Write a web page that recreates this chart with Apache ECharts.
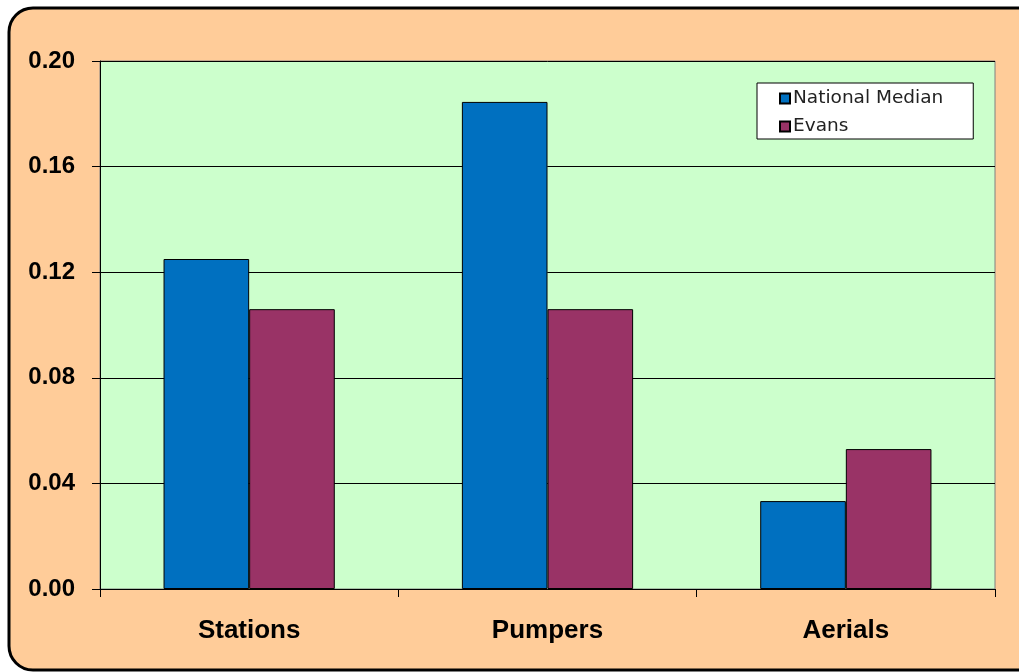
<!DOCTYPE html>
<html>
<head>
<meta charset="utf-8">
<script src="https://cdn.jsdelivr.net/npm/echarts@6/dist/echarts.min.js"></script>
<style>
  html, body { margin: 0; padding: 0; background: #ffffff; }
  #chart { width: 1019px; height: 672px; }
</style>
</head>
<body>
<div id="chart"></div>
<script>
  // categories and values
  const categories = ['Stations', 'Pumpers', 'Aerials'];
  const nationalMedian = [0.125, 0.1845, 0.0333];
  const evans = [0.106, 0.106, 0.053];
  const yTicks = { min: 0, max: 0.20, interval: 0.04 };

  const myChart = echarts.init(document.getElementById('chart'));
  const option = {
    animation: false,
    graphic: [
      {
        type: 'rect',
        z: -10,
        shape: { x: 9, y: 8, width: 1060, height: 662, r: 24 },
        style: { fill: '#FFCC99', stroke: '#000000', lineWidth: 3 }
      }
    ],
    grid: {
      left: 100,
      top: 61,
      right: 24,
      bottom: 83,
      show: true,
      backgroundColor: '#CCFFCC',
      borderColor: '#808080',
      borderWidth: 1
    },
    legend: {
      left: 757,
      top: 83,
      orient: 'vertical',
      backgroundColor: '#ffffff',
      borderColor: '#000000',
      borderWidth: 1,
      borderRadius: 0,
      padding: [6, 30, 3, 22],
      itemWidth: 10,
      itemHeight: 10,
      itemGap: 9,
      icon: 'rect',
      textStyle: {
        fontFamily: 'DejaVu Sans, sans-serif',
        fontSize: 18.5,
        lineHeight: 18,
        color: '#222222',
        padding: [0, 0, 0, -2]
      },
      data: ['National Median', 'Evans']
    },
    xAxis: {
      type: 'category',
      data: categories,
      axisLine: { lineStyle: { color: '#000000', width: 1 } },
      axisTick: { show: true, length: 8, lineStyle: { color: '#000000' } },
      axisLabel: {
        margin: 29,
        fontFamily: 'Liberation Sans, Arial, sans-serif',
        fontSize: 26,
        fontWeight: 'bold',
        color: '#000000'
      }
    },
    yAxis: {
      type: 'value',
      min: yTicks.min,
      max: yTicks.max,
      interval: yTicks.interval,
      axisLine: { show: true, lineStyle: { color: '#000000', width: 1 } },
      axisTick: { show: true, length: 8, lineStyle: { color: '#000000' } },
      splitLine: { show: true, lineStyle: { color: '#000000', width: 1 } },
      axisLabel: {
        margin: 25,
        fontFamily: 'Liberation Sans, Arial, sans-serif',
        fontSize: 24,
        fontWeight: 'bold',
        color: '#000000',
        formatter: function (v) { return v.toFixed(2); }
      }
    },
    series: [
      {
        name: 'National Median',
        type: 'bar',
        data: nationalMedian,
        barGap: '0%',
        barCategoryGap: '42.6%',
        itemStyle: { color: '#0070C0', borderColor: '#000000', borderWidth: 1 }
      },
      {
        name: 'Evans',
        type: 'bar',
        data: evans,
        itemStyle: { color: '#993366', borderColor: '#000000', borderWidth: 1 }
      }
    ]
  };
  myChart.setOption(option);
</script>
</body>
</html>
